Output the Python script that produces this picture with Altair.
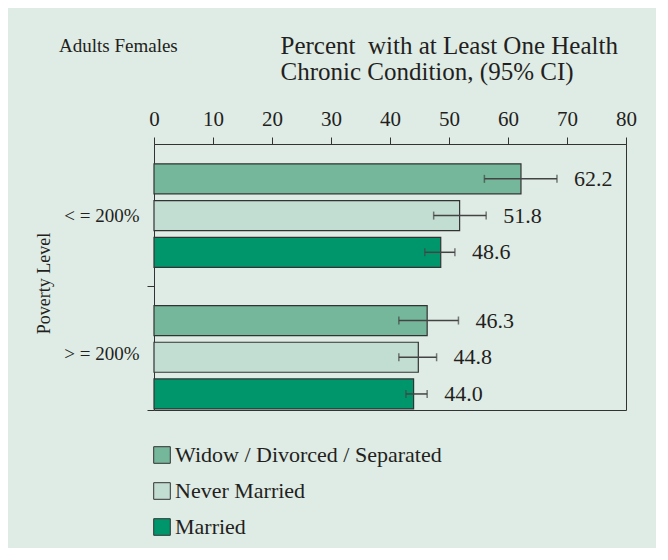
import altair as alt
import pandas as pd

groups = ["< = 200%", "> = 200%"]
series = ["Widow / Divorced / Separated", "Never Married", "Married"]
colors = ["#74b79a", "#c2ddd1", "#00966c"]

values_low = [62.2, 51.8, 48.6]
ci_lo_low = [56.0, 47.4, 45.9]
ci_hi_low = [68.3, 56.3, 51.0]

values_high = [46.3, 44.8, 44.0]
ci_lo_high = [41.5, 41.5, 42.7]
ci_hi_high = [51.6, 47.9, 46.3]

x_ticks = [0, 10, 20, 30, 40, 50, 60, 70, 80]

rows = []
for g, vals, los, his in [
    (groups[0], values_low, ci_lo_low, ci_hi_low),
    (groups[1], values_high, ci_lo_high, ci_hi_high),
]:
    for s, v, lo, hi in zip(series, vals, los, his):
        rows.append({"group": g, "series": s, "value": v, "lo": lo, "hi": hi,
                     "label": f"{v:.1f}"})
df = pd.DataFrame(rows)

FONT = "Liberation Serif"
TXT = "#231f20"
LINE = "#333333"

x_scale = alt.Scale(domain=[0, 80], nice=False)
base = alt.Chart(df)

# Layer that only carries the left axis (ticks at band boundaries)
axis_layer = base.mark_point(opacity=0).encode(
    x=alt.X("value:Q", scale=x_scale),
    y=alt.Y(
        "group:N",
        sort=groups,
        scale=alt.Scale(type="band", domain=groups, paddingInner=0,
                        paddingOuter=0.0813, align=1),
        axis=alt.Axis(
            title="Poverty Level",
            titleFont=FONT, titleFontSize=18, titleFontWeight="normal", titleColor=TXT,
            titleX=-110, titleY=139, titleAngle=-90, titleAlign="center",
            titleBaseline="middle",
            labelFont=FONT, labelFontSize=19, labelColor=TXT, labelPadding=8,
            labelOffset={"condition": {"test": f"datum.value === '{groups[0]}'", "value": -9},
                         "value": 6},
            bandPosition=1, tickExtra=False, tickSize=7, tickColor=LINE,
            domain=False,
        ),
    ),
)

y_enc = alt.Y(
    "group:N",
    sort=groups,
    scale=alt.Scale(domain=groups, paddingInner=0.27, paddingOuter=0.0738, align=0.95),
    axis=None,
)
yoff = alt.YOffset(
    "series:N", sort=series,
    scale=alt.Scale(domain=series, paddingInner=0.183, paddingOuter=0),
)

bars = base.mark_bar(stroke=LINE, strokeWidth=1.2).encode(
    y=y_enc,
    yOffset=yoff,
    x=alt.X(
        "value:Q", scale=x_scale,
        axis=alt.Axis(
            orient="top", values=x_ticks, grid=False, labelFlush=False,
            labelFont=FONT, labelFontSize=21, labelColor=TXT, labelPadding=8,
            tickSize=7, tickColor=LINE, domainColor=LINE,
            title=["Percent \u00a0with at Least One Health", "Chronic Condition, (95% CI)"],
            titleFont=FONT, titleFontSize=25, titleFontWeight="normal", titleColor=TXT,
            titleLineHeight=26,
            titleX=126, titleY=-111, titleAlign="left", titleBaseline="top",
            titleAnchor="start",
        ),
    ),
    color=alt.Color(
        "series:N", sort=series,
        scale=alt.Scale(domain=series, range=colors),
        legend=alt.Legend(
            title=None, orient="none", legendX=-3, legendY=300,
            symbolType="square", symbolSize=276, symbolStrokeColor=LINE,
            symbolStrokeWidth=1, symbolOpacity=1,
            labelFont=FONT, labelFontSize=22, labelColor=TXT, labelLimit=0,
            labelOffset=2, rowPadding=14,
        ),
    ),
)

yy = alt.Y("group:N", sort=groups)
yo = alt.YOffset("series:N", sort=series)

err = base.mark_rule(color="#444444", strokeWidth=1.5).encode(
    y=yy, yOffset=yo, x=alt.X("lo:Q", scale=x_scale), x2="hi:Q",
)
cap_lo = base.mark_tick(color="#444444", thickness=1.5, size=8).encode(
    y=yy, yOffset=yo, x=alt.X("lo:Q", scale=x_scale),
)
cap_hi = base.mark_tick(color="#444444", thickness=1.5, size=8).encode(
    y=yy, yOffset=yo, x=alt.X("hi:Q", scale=x_scale),
)
labels = base.mark_text(
    align="left", baseline="middle", dx=17, font=FONT, fontSize=22, color=TXT
).encode(
    y=yy, yOffset=yo, x=alt.X("hi:Q", scale=x_scale), text="label:N",
)

data_layers = alt.layer(bars, err, cap_lo, cap_hi, labels)

chart = (
    alt.layer(axis_layer, data_layers)
    .resolve_scale(y="independent")
    .resolve_axis(y="independent")
    .properties(
        width=472,
        height=266,
        autosize=alt.AutoSizeParams(type="none"),
        padding={"left": 146, "top": 136, "right": 30, "bottom": 138},
        title=alt.TitleParams(
            text="Adults Females",
            anchor="start", frame="group", dx=-95, offset=-42, baseline="bottom",
            font=FONT, fontSize=19, fontWeight="normal", color=TXT,
        ),
    )
    .configure(background="#dfebe5")
    .configure_view(stroke=LINE, strokeWidth=1)
)

chart.save("out.html", embed_options={"renderer": "svg", "actions": False})
